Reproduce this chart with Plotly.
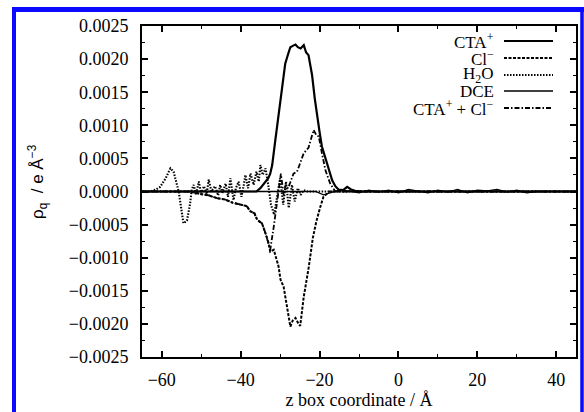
import plotly.graph_objects as go

# ---------------- data ----------------
cta_x = [-65, -36, -35, -34, -33, -32.5, -32, -31.2, -30.5, -29.9, -29.2, -28.7, -28, -27.4,
         -26.8, -26.1, -25.5, -24.8, -24, -23.4, -22.8, -22.3, -21.9, -21.2, -20.6, -20,
         -19.4, -18.7, -18.1, -17.4, -16.8, -16, -15.2, -14, -13, -12, -11, -9, 45]
cta_y = [0, 0, 0.00005, 0.00012, 0.0002, 0.00027, 0.0004, 0.00078, 0.0011, 0.00143, 0.0017,
         0.00193, 0.00207, 0.00218, 0.0022, 0.00222, 0.00218, 0.00216, 0.00221, 0.0021,
         0.00206, 0.0019, 0.00176, 0.0014, 0.00113, 0.0009, 0.00068, 0.00055, 0.00043,
         0.0003, 0.00017, 0.00008, 0.00003, 0.00002, 0.00007, 0.00003, 0.00001, 0, 0]

cl_x = [-65, -53, -50, -48, -46, -44, -42, -40, -38.5, -37.5, -36.5, -35.8, -34.6, -33.7,
        -32.9, -32.5, -31.6, -30.4, -29.9, -29.1, -28.2, -27.4, -26.8, -26.1, -25.5, -24.9,
        -24, -22.7, -21.7, -20.8, -19.8, -19, -17.5, -16, 45]
cl_y = [0, 0, -0.00004, -0.00006, -0.0001, -0.00012, -0.00017, -0.0002, -0.00022, -0.0003,
        -0.00033, -0.00043, -0.00048, -0.00063, -0.00078, -0.00091, -0.00088, -0.00113,
        -0.00133, -0.00144, -0.00174, -0.00204, -0.00195, -0.00191, -0.00198, -0.00203,
        -0.00159, -0.00113, -0.0007, -0.00045, -0.00023, -0.00008, 0, 0, 0]

h2o_x = [-65, -63, -61.5, -60.4, -59, -57.8, -57, -56.3, -55.7, -55.2, -54.5, -53.6, -52.8,
         -52.4, -51.9, -51.3, -50.6, -50, -49.3, -48.6, -48.1, -47.4, -46.5, -45.7, -45.2,
         -44.6, -43.8, -43.2, -42.6, -41.8, -41.2, -40.5, -39.8, -39.2, -38.8, -38.1, -37.5,
         -36.7, -36, -35.4, -35, -34.4, -33.7, -33, -32.3, -31.5, -30.8, -30, -29.2, -28.5,
         -27.8, -27, -26.3, -25.5, -24.8, -24, -23, -22, -20, 45]
h2o_y = [0, 0, 0.00003, 0.00007, 0.0002, 0.00035, 0.0003, 0.00015, 0, -0.0002, -0.00048,
         -0.00044, -0.00018, 0.00003, 0.0001, -0.00005, 0.00015, -0.00003, 0.00008, -0.00004,
         0.00018, 0, 0.00008, -0.00006, 0.0001, -0.00002, 0.00012, -0.00008, 0.0002, -0.00013,
         0.00005, 0.00015, -0.00008, 0.0001, 0.00025, 0.00005, 0.00027, 0.0001, 0.0003,
         0.00015, 0.0004, 0.00025, 0.00035, 0.0001, -0.0002, -0.00035, -0.0001, 0.0002,
         -0.0002, 0.00015, -0.00025, 0.0001, -0.00015, 0.00005, -0.00005, 0.00002, 0, 0, 0, 0]

dce_x = [-65, -21, -19, -17, -15, -12.5, -10, -7.5, -5, -2.5, 0, 2.5, 5, 7.5, 10, 12.5, 15,
         17.5, 20, 22.5, 25, 27.5, 30, 32.5, 35, 37, 45]
dce_y = [0, 0, -0.00005, -0.00002, 0.00002, 0.00001, -0.00002, 0.00002, -0.00001, 0.00002,
         -0.00002, 0.00003, 0.00001, -0.00002, 0.00002, -0.00001, 0.00003, -0.00002,
         0.00002, 0.00001, 0.00003, -0.00001, 0.00002, -0.00002, 0, 0, 0]

sum_x = [-65, -53, -50, -48, -46, -44, -42, -40, -38.5, -37.5, -36.5, -35.8, -34.6, -33.7,
         -32.9, -32.5, -31.6, -30.8, -30.4, -29.8, -29.1, -28.6, -28, -27.4, -26.6, -25.7,
         -24.8, -24, -22.8, -21.5, -20.8, -20.2, -19.4, -18.5, -17.3, -16, -14, 45]
sum_y = [0, 0, -0.00004, -0.00006, -0.0001, -0.00012, -0.00017, -0.0002, -0.00022, -0.0003,
         -0.00033, -0.00043, -0.00048, -0.00063, -0.00078, -0.00088, -0.00053, -0.00013, 0,
         0.00027, -0.00005, 0.0001, 0.00005, 0.00014, 0.00027, 0.0003, 0.00045, 0.00058,
         0.00066, 0.00093, 0.00085, 0.00083, 0.00058, 0.00032, 0.00012, 0, 0, 0]

labels = ["CTA<sup>+</sup>", "Cl<sup>−</sup>", "H<sub>2</sub>O", "DCE",
          "CTA<sup>+</sup> + Cl<sup>−</sup>"]

x_ticks = [-60, -40, -20, 0, 20, 40]
y_ticks = [-0.0025, -0.0020, -0.0015, -0.0010, -0.0005, 0.0, 0.0005, 0.0010, 0.0015,
           0.0020, 0.0025]

# ---------------- styling ----------------
styles = [
    dict(width=2.2, dash="solid"),
    dict(width=2.0, dash="3px,1.5px"),
    dict(width=2.1, dash="1.5px,1.5px"),
    dict(width=1.3, dash="solid"),
    dict(width=1.8, dash="5px,2px,1.5px,2px"),
]
series = [(cta_x, cta_y), (cl_x, cl_y), (h2o_x, h2o_y), (dce_x, dce_y), (sum_x, sum_y)]

fig = go.Figure()
# draw order: DCE and water under the ions
for i in [3, 2, 1, 4, 0]:
    xs, ys = series[i]
    fig.add_trace(go.Scatter(x=xs, y=ys, mode="lines", name=labels[i],
                             line=dict(color="black", **styles[i]), showlegend=False))

W, H = 584, 412
L, R, T, B = 142, 8, 26, 55
pw, ph = W - L - R, H - T - B

def px2paper_x(px):
    return (px - L) / pw

def py2paper_y(py):
    return (H - B - py) / ph

serif = "Liberation Serif"

# custom legend: right-aligned text, sample line to the right (gnuplot style)
rows = [41, 58, 75, 91, 108]
for lab, row, st in zip(labels, rows, styles):
    fig.add_annotation(x=px2paper_x(495), y=py2paper_y(row), xref="paper", yref="paper",
                       text=lab, showarrow=False, xanchor="right",
                       yanchor="middle", borderpad=0,
                       font=dict(family=serif, size=17, color="black"))
    fig.add_shape(type="line", xref="paper", yref="paper",
                  x0=px2paper_x(504), x1=px2paper_x(553),
                  y0=py2paper_y(row), y1=py2paper_y(row),
                  line=dict(color="black", width=st["width"], dash=st["dash"]))

# y-axis title (sans)
fig.add_annotation(x=px2paper_x(37), y=py2paper_y(182), xref="paper", yref="paper",
                   text="ρ<sub>q</sub>  / e Å<sup>−3</sup>", textangle=-90, showarrow=False,
                   xanchor="center", yanchor="middle",
                   font=dict(family="Liberation Sans", size=17, color="black"))

# blue frame
blue = "#0a0aff"
fig.add_shape(type="line", xref="paper", yref="paper",
              x0=px2paper_x(12), x1=px2paper_x(584), y0=py2paper_y(9.5), y1=py2paper_y(9.5),
              line=dict(color=blue, width=5))
fig.add_shape(type="line", xref="paper", yref="paper",
              x0=px2paper_x(14), x1=px2paper_x(14), y0=py2paper_y(7), y1=py2paper_y(415),
              line=dict(color=blue, width=4))
fig.add_shape(type="line", xref="paper", yref="paper",
              x0=px2paper_x(582), x1=px2paper_x(582), y0=py2paper_y(7), y1=py2paper_y(415),
              line=dict(color=blue, width=3.5))

tickfont = dict(family=serif, size=18, color="black")
axis_common = dict(showline=True, linecolor="black", linewidth=2, mirror="ticks",
                   ticks="inside", tickcolor="black", tickwidth=1.5, ticklen=6,
                   showgrid=False, zeroline=False, tickfont=tickfont)

fig.update_xaxes(range=[-65, 45], tickvals=x_ticks, ticklabelstandoff=5,
                 minor=dict(ticks="inside", ticklen=3, tickwidth=1.2, tickcolor="black",
                            dtick=10, tick0=0, showgrid=False),
                 title=dict(text="z box coordinate / Å",
                            font=dict(family=serif, size=18, color="black"),
                            standoff=4),
                 **axis_common)
fig.update_yaxes(range=[-0.0025, 0.0025], tickvals=y_ticks, tickformat=".4f",
                 ticklabelstandoff=8,
                 minor=dict(ticks="inside", ticklen=3, tickwidth=1.2, tickcolor="black",
                            dtick=0.00025, tick0=0, showgrid=False),
                 **axis_common)

fig.update_layout(width=W, height=H, margin=dict(l=L, r=R, t=T, b=B, autoexpand=False),
                  plot_bgcolor="white", paper_bgcolor="white", showlegend=False)

fig.write_html("out.html")
